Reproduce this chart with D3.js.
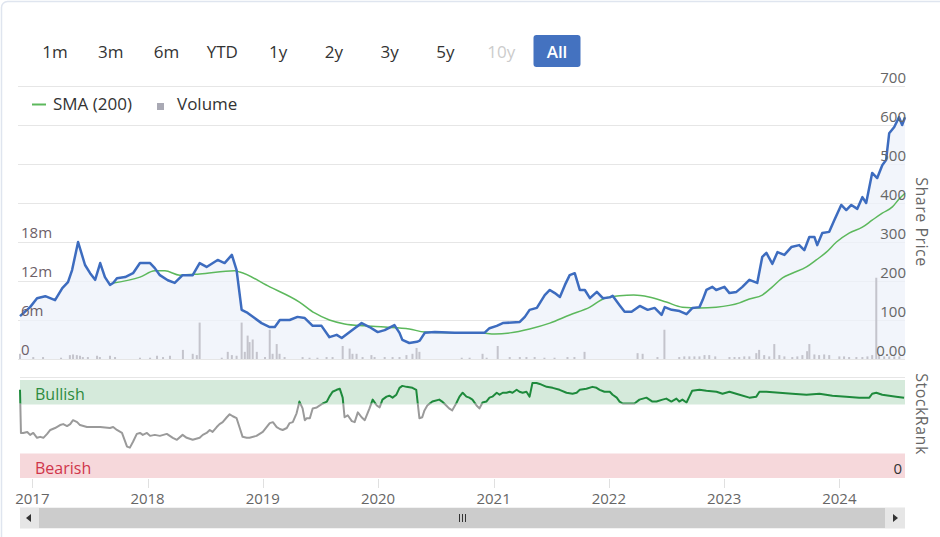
<!DOCTYPE html>
<html><head><meta charset="utf-8">
<script src="https://cdn.jsdelivr.net/npm/d3@7"></script>
<style>
body{margin:0;background:#fff;}
svg{display:block;font-family:"Open Sans",sans-serif;}
</style>
</head><body>
<svg id="c" width="940" height="537"></svg>
<script>
// ---------------- DATA ----------------
const rangeButtons = ["1m","3m","6m","YTD","1y","2y","3y","5y","10y","All"];
const priceTicks = [0,100,200,300,400,500,600,700];
const priceTickLabels = ["0.00","100","200","300","400","500","600","700"];
const volumeTicks = [0,6,12,18];
const volumeTickLabels = ["0","6m","12m","18m"];
const yearTicks = [2017,2018,2019,2020,2021,2022,2023,2024];

const priceDates = ["2016-11-23","2016-12-25","2017-01-16","2017-02-11","2017-03-14","2017-04-06","2017-04-24","2017-05-07","2017-05-26","2017-06-17","2017-07-03","2017-07-19","2017-08-04","2017-08-19","2017-09-04","2017-09-14","2017-09-26","2017-10-22","2017-11-16","2017-12-08","2018-01-09","2018-01-24","2018-02-09","2018-03-06","2018-03-28","2018-04-22","2018-05-24","2018-06-15","2018-07-07","2018-08-11","2018-09-02","2018-09-25","2018-10-10","2018-10-26","2018-11-14","2018-12-06","2018-12-28","2019-01-23","2019-02-08","2019-02-24","2019-03-27","2019-04-21","2019-05-14","2019-06-08","2019-07-06","2019-07-31","2019-08-23","2019-09-08","2019-10-19","2019-11-10","2019-12-05","2019-12-31","2020-01-22","2020-02-22","2020-03-09","2020-03-18","2020-04-09","2020-05-03","2020-05-12","2020-05-28","2020-06-29","2020-08-31","2020-12-03","2020-12-19","2021-01-11","2021-01-30","2021-03-25","2021-04-10","2021-04-25","2021-05-18","2021-06-12","2021-06-28","2021-07-14","2021-07-30","2021-08-15","2021-08-30","2021-09-15","2021-10-01","2021-10-17","2021-11-02","2021-11-24","2021-12-13","2022-01-04","2022-01-13","2022-02-04","2022-02-20","2022-03-14","2022-04-09","2022-05-04","2022-05-26","2022-06-17","2022-06-27","2022-07-19","2022-08-13","2022-09-04","2022-09-23","2022-10-15","2022-10-25","2022-11-06","2022-11-25","2022-12-07","2023-01-02","2023-01-18","2023-02-09","2023-02-28","2023-03-22","2023-04-16","2023-05-02","2023-05-15","2023-06-03","2023-06-19","2023-07-11","2023-08-02","2023-08-27","2023-09-12","2023-09-28","2023-10-14","2023-10-23","2023-11-08","2023-11-30","2023-12-16","2024-01-07","2024-01-23","2024-02-08","2024-02-27","2024-03-14","2024-03-26","2024-04-14","2024-04-30","2024-05-16","2024-05-28","2024-06-07","2024-06-23","2024-07-08","2024-07-18","2024-07-27"];
const priceValues = [110,133,156,161,151,182,197,228,300,241,220,203,246,210,190,195,207,210,220,246,246,233,215,202,195,215,215,246,236,254,246,267,228,126,118,105,92,82,82,100,100,108,105,85,85,56,62,54,79,92,82,69,74,87,67,49,41,44,47,67,69,67,67,79,85,92,95,108,126,131,164,177,169,159,190,215,220,177,177,156,172,156,158,162,138,121,121,136,126,131,113,133,126,123,115,131,133,151,177,185,177,185,169,172,185,203,195,262,272,244,274,267,287,292,279,313,313,292,323,326,356,395,382,395,385,415,400,477,464,497,510,579,595,620,600,620];

const smaDates = ["2017-09-14","2017-12-08","2018-01-24","2018-02-25","2018-04-13","2018-06-15","2018-10-04","2018-10-20","2019-01-23","2019-04-27","2019-06-14","2019-07-31","2019-09-17","2019-11-19","2020-01-22","2020-04-09","2020-05-28","2020-08-15","2020-11-18","2021-01-05","2021-02-22","2021-04-25","2021-06-28","2021-08-30","2021-11-02","2021-12-19","2022-02-04","2022-03-21","2022-05-08","2022-07-02","2022-08-22","2022-10-15","2022-12-07","2023-02-19","2023-03-22","2023-05-02","2023-06-03","2023-07-05","2023-08-05","2023-09-19","2023-10-20","2023-11-21","2023-12-23","2024-02-01","2024-03-14","2024-04-14","2024-05-16","2024-06-17","2024-07-08","2024-07-27"];
const smaValues = [195,210,226,226,215,218,226,223,185,146,118,100,90,85,82,77,69,67,67,64,67,77,92,113,133,156,162,164,159,146,133,131,133,144,154,164,185,208,220,236,254,274,300,323,338,356,374,390,410,425];

// volume in millions
const volumeDates = ["2016-11-23","2017-01-04","2017-02-04","2017-04-02","2017-04-30","2017-05-10","2017-05-22","2017-06-01","2017-06-10","2017-06-26","2017-07-25","2017-08-03","2017-09-04","2017-09-20","2017-12-08","2018-01-09","2018-01-31","2018-02-19","2018-03-13","2018-04-23","2018-05-24","2018-06-06","2018-06-15","2018-08-24","2018-09-12","2018-09-25","2018-10-10","2018-10-26","2018-11-05","2018-11-14","2018-11-20","2018-11-30","2018-12-13","2019-01-08","2019-01-23","2019-02-01","2019-02-14","2019-02-23","2019-03-11","2019-05-07","2019-05-29","2019-06-23","2019-07-22","2019-08-10","2019-09-11","2019-10-03","2019-10-12","2019-10-25","2019-11-13","2019-12-11","2019-12-21","2020-01-22","2020-02-16","2020-03-09","2020-03-31","2020-04-19","2020-05-02","2020-05-11","2020-09-22","2020-10-17","2020-11-27","2020-12-10","2021-01-14","2021-02-21","2021-03-25","2021-04-15","2021-05-11","2021-06-11","2021-07-13","2021-08-23","2021-09-14","2021-10-16","2022-04-02","2022-04-18","2022-06-04","2022-06-26","2022-08-12","2022-08-28","2022-09-13","2022-09-29","2022-10-15","2022-10-31","2022-11-15","2022-12-04","2023-01-18","2023-02-03","2023-02-18","2023-03-06","2023-03-22","2023-04-13","2023-04-22","2023-05-08","2023-05-24","2023-06-09","2023-06-25","2023-07-11","2023-08-05","2023-08-21","2023-09-06","2023-09-21","2023-09-28","2023-10-14","2023-10-29","2023-11-14","2023-11-30","2024-01-01","2024-01-16","2024-02-01","2024-02-24","2024-03-14","2024-03-30","2024-04-14","2024-04-27","2024-05-06","2024-05-22","2024-06-07","2024-06-23","2024-07-09"];
const volumeValues = [0.8,0.3,0.3,0.2,0.6,0.7,0.6,0.5,0.3,0.3,0.5,0.3,0.5,0.3,0.2,0.2,0.5,0.3,0.5,1.4,0.8,0.6,5.6,0.2,1.1,0.6,0.5,5.6,1.1,3.6,2.6,3.0,1.1,0.3,4.5,0.8,2.3,0.8,0.3,0.3,0.2,0.2,0.3,0.3,2.0,1.6,0.8,0.8,0.3,0.6,0.3,0.3,0.3,0.3,0.6,0.8,1.7,1.1,0.2,0.2,0.8,0.2,2.0,0.3,0.3,0.3,0.3,0.2,0.2,0.3,0.3,1.1,0.9,0.8,0.3,4.5,0.3,0.4,0.4,0.4,0.4,0.6,0.6,0.4,0.3,0.3,0.3,0.4,0.4,0.9,1.4,0.6,0.4,2.3,0.6,0.4,0.3,0.4,0.6,1.2,2.3,0.7,0.6,0.7,0.6,0.4,0.4,0.3,0.3,0.3,0.4,0.6,12.5,0.6,0.4,0.4,0.4,0.4];

const rankDates = ["2016-11-23","2016-11-26","2016-12-03","2016-12-16","2016-12-25","2017-01-04","2017-01-16","2017-01-26","2017-02-05","2017-02-17","2017-02-27","2017-03-14","2017-03-30","2017-04-09","2017-04-21","2017-05-01","2017-05-10","2017-05-23","2017-06-01","2017-06-23","2017-08-04","2017-09-04","2017-09-14","2017-09-26","2017-10-12","2017-10-28","2017-11-06","2017-11-16","2017-11-28","2017-12-08","2017-12-17","2017-12-30","2018-01-09","2018-01-24","2018-02-09","2018-03-03","2018-03-22","2018-04-04","2018-04-22","2018-05-05","2018-05-24","2018-06-15","2018-06-25","2018-07-07","2018-07-17","2018-07-26","2018-08-08","2018-08-17","2018-08-27","2018-09-09","2018-09-18","2018-09-28","2018-10-10","2018-10-20","2018-10-29","2018-11-11","2018-11-20","2018-12-12","2019-01-01","2019-01-13","2019-01-23","2019-02-02","2019-02-14","2019-02-24","2019-03-05","2019-03-18","2019-03-27","2019-04-06","2019-04-18","2019-04-27","2019-05-07","2019-05-14","2019-05-20","2019-05-30","2019-06-08","2019-06-21","2019-07-10","2019-07-23","2019-07-31","2019-08-10","2019-08-23","2019-09-02","2019-09-11","2019-09-17","2019-09-27","2019-10-10","2019-10-19","2019-10-29","2019-11-10","2019-11-20","2019-12-05","2019-12-15","2019-12-28","2020-01-06","2020-01-15","2020-01-28","2020-02-06","2020-02-16","2020-02-28","2020-03-09","2020-03-18","2020-03-31","2020-04-19","2020-05-01","2020-05-11","2020-05-20","2020-05-27","2020-06-05","2020-06-21","2020-07-13","2020-07-22","2020-08-04","2020-08-13","2020-08-23","2020-09-06","2020-09-15","2020-09-25","2020-10-07","2020-10-16","2020-10-26","2020-11-08","2020-11-17","2020-11-27","2020-12-09","2020-12-19","2020-12-28","2021-01-11","2021-01-20","2021-01-30","2021-02-11","2021-02-21","2021-03-02","2021-03-15","2021-03-24","2021-04-03","2021-04-15","2021-04-25","2021-05-04","2021-05-17","2021-05-27","2021-06-18","2021-07-07","2021-07-29","2021-08-20","2021-09-08","2021-09-21","2021-10-01","2021-10-22","2021-11-10","2021-11-23","2021-12-03","2021-12-18","2022-01-04","2022-01-13","2022-01-26","2022-02-04","2022-02-14","2022-03-23","2022-04-08","2022-04-30","2022-05-19","2022-06-01","2022-06-20","2022-07-02","2022-07-18","2022-08-03","2022-08-12","2022-08-22","2022-09-04","2022-09-13","2022-09-22","2022-10-15","2022-11-06","2022-12-08","2022-12-27","2023-01-18","2023-02-19","2023-03-22","2023-04-13","2023-04-23","2023-05-15","2023-06-25","2023-08-05","2023-09-19","2023-10-30","2023-12-10","2024-01-23","2024-03-04","2024-03-26","2024-04-05","2024-04-14","2024-04-27","2024-05-16","2024-06-07","2024-06-29","2024-07-24"];
const rankValues = [90,46,46,47,44,46,41,42,41,45,49,51,54,55,53,55,59,57,54,52,52,51,52,49,46,32,31,37,45,46,44,46,43,44,43,45,41,39,44,41,39,41,44,46,49,47,52,55,57,62,65,63,61,51,42,41,41,43,47,52,56,57,52,50,49,51,56,57,66,78,71,59,61,61,71,72,76,78,83,88,90,91,82,62,64,58,57,67,62,59,71,80,74,72,80,83,84,82,85,92,94,93,92,90,61,62,69,74,78,80,78,74,71,69,77,83,87,83,82,80,74,71,77,78,82,83,87,85,87,87,88,87,90,88,87,88,83,97,97,96,93,92,90,87,86,87,90,91,93,92,90,88,88,85,82,78,76,76,80,82,78,78,80,81,78,81,78,80,77,83,89,90,89,88,86,88,85,82,83,88,88,87,86,85,86,84,83,82,82,82,86,87,85,84,83,82];

// ---------------- DRAW ----------------
const svg = d3.select("#c");
const parse = d3.timeParse("%Y-%m-%d");
const X0 = 20, X1 = 905;
const x = d3.scaleTime().domain([parse(priceDates[0]), parse(priceDates[priceDates.length-1])]).range([X0, X1]);
const yP = d3.scaleLinear().domain([0,700]).range([359,86]);
const yV = d3.scaleLinear().domain([0,42]).range([359,86]);
const yR = d3.scaleLinear().domain([0,100]).range([478,380]);

// container border
svg.append("rect").attr("x",1.5).attr("y",1.5).attr("width",990).attr("height",600).attr("rx",6)
  .attr("fill","none").attr("stroke","#dfe5ef").attr("stroke-width",1.5);

// range selector
const bx = d3.scalePoint().domain(rangeButtons).range([55,557]);
const btn = svg.append("g").selectAll("g").data(rangeButtons).join("g")
  .attr("transform", d => `translate(${bx(d)},0)`);
btn.filter(d => d === "All").append("rect").attr("x",-23.5).attr("y",35).attr("width",47).attr("height",32)
  .attr("rx",3).attr("fill","#4472c0");
btn.append("text").attr("y",58).attr("text-anchor","middle").attr("font-size",17)
  .attr("font-weight", d => d === "All" ? 600 : 400)
  .attr("fill", d => d === "All" ? "#fff" : (d === "10y" ? "#cccccc" : "#333"))
  .text(d => d);

// price gridlines
svg.append("g").selectAll("line").data(priceTicks).join("line")
  .attr("x1",18).attr("x2",X1).attr("y1",d=>Math.round(yP(d))+0.5).attr("y2",d=>Math.round(yP(d))+0.5)
  .attr("stroke", "#e6e6e6").attr("stroke-width",1);

// price area
const pData = priceDates.map((d,i)=>({d:parse(d), v:priceValues[i]}));
svg.append("path").datum(pData)
  .attr("d", d3.area().x(d=>x(d.d)).y0(yP(0)).y1(d=>yP(d.v)))
  .attr("fill","#eef1f9").attr("fill-opacity",0.75);

// volume bars
const vData = volumeDates.map((d,i)=>({d:parse(d), v:volumeValues[i]}));
svg.append("g").selectAll("rect").data(vData).join("rect")
  .attr("x", d=>x(d.d)-1).attr("width",2)
  .attr("y", d=>yV(d.v)).attr("height", d=>yV(0)-yV(d.v))
  .attr("fill","#c4c4cc");

// SMA
const sData = smaDates.map((d,i)=>({d:parse(d), v:smaValues[i]}));
svg.append("path").datum(sData)
  .attr("d", d3.line().x(d=>x(d.d)).y(d=>yP(d.v)).curve(d3.curveMonotoneX))
  .attr("fill","none").attr("stroke","#5cb85c").attr("stroke-width",1.5);

// price line
svg.append("path").datum(pData)
  .attr("d", d3.line().x(d=>x(d.d)).y(d=>yP(d.v)))
  .attr("fill","none").attr("stroke","#3d6cbf").attr("stroke-width",2.5).attr("stroke-linejoin","round");

// price axis labels
svg.append("g").selectAll("text").data(priceTicks).join("text")
  .attr("x",906).attr("y",d=>yP(d)-3).attr("text-anchor","end").attr("font-size",15)
  .attr("fill","#666").text((d,i)=>priceTickLabels[i]);

// volume axis labels
svg.append("g").selectAll("text").data(volumeTicks).join("text")
  .attr("x",21).attr("y",d=>yV(d)-4).attr("font-size",15)
  .attr("fill","#6d6068").text((d,i)=>volumeTickLabels[i]);

// axis titles
svg.append("text").attr("transform","translate(916,222) rotate(90)").attr("text-anchor","middle")
  .attr("font-size",16).attr("fill","#666").attr("letter-spacing",0.5).text("Share Price");
svg.append("text").attr("transform","translate(916,414) rotate(90)").attr("text-anchor","middle")
  .attr("font-size",16).attr("fill","#666").attr("letter-spacing",0.5).text("StockRank");

// legend
svg.append("line").attr("x1",32).attr("x2",46).attr("y1",104.5).attr("y2",104.5).attr("stroke","#5cb85c").attr("stroke-width",2);
svg.append("text").attr("x",53).attr("y",110).attr("font-size",17).attr("fill","#333").text("SMA (200)");
svg.append("rect").attr("x",157).attr("y",103).attr("width",7).attr("height",7).attr("fill","#a9a9b4");
svg.append("text").attr("x",177).attr("y",110).attr("font-size",17).attr("fill","#333").text("Volume");

// ---- StockRank panel ----
svg.append("line").attr("x1",X0).attr("x2",X1).attr("y1",377.5).attr("y2",377.5).attr("stroke","#e6e6e6");
svg.append("rect").attr("x",X0).attr("width",X1-X0).attr("y",yR(100)).attr("height",yR(75)-yR(100)).attr("fill","#d5eadb");
svg.append("rect").attr("x",X0).attr("width",X1-X0).attr("y",yR(25)).attr("height",yR(0)-yR(25)).attr("fill","#f6d8db");
svg.append("text").attr("x",35).attr("y",400).attr("font-size",16).attr("fill","#2e8b3e").text("Bullish");
svg.append("text").attr("x",35).attr("y",474).attr("font-size",16).attr("fill","#d0354a").text("Bearish");
svg.append("text").attr("x",902).attr("y",474).attr("text-anchor","end").attr("font-size",15).attr("fill","#333").text("0");

const rData = rankDates.map((d,i)=>({d:parse(d), v:rankValues[i]}));
const thr = yR(76);
const defs = svg.append("defs");
defs.append("clipPath").attr("id","above").append("rect").attr("x",0).attr("y",0).attr("width",940).attr("height",thr);
defs.append("clipPath").attr("id","below").append("rect").attr("x",0).attr("y",thr).attr("width",940).attr("height",537-thr);
const rLine = d3.line().x(d=>x(d.d)).y(d=>yR(d.v));
svg.append("path").datum(rData).attr("d",rLine).attr("clip-path","url(#below)")
  .attr("fill","none").attr("stroke","#9a9a9a").attr("stroke-width",2).attr("stroke-linejoin","round");
svg.append("path").datum(rData).attr("d",rLine).attr("clip-path","url(#above)")
  .attr("fill","none").attr("stroke","#1e8a3c").attr("stroke-width",2).attr("stroke-linejoin","round");

// x axis
const years = yearTicks.map(y => new Date(y,0,1));
svg.append("g").selectAll("line").data(years).join("line")
  .attr("x1",d=>Math.round(x(d))+0.5).attr("x2",d=>Math.round(x(d))+0.5).attr("y1",479).attr("y2",488)
  .attr("stroke","#e0e0e0");
svg.append("g").selectAll("text").data(years).join("text")
  .attr("x",d=>x(d)).attr("y",504).attr("text-anchor","middle").attr("font-size",15)
  .attr("fill","#666").text((d,i)=>yearTicks[i]);

// scrollbar
svg.append("rect").attr("x",X0).attr("y",507).attr("width",X1-X0).attr("height",22).attr("fill","#f2f2f2");
svg.append("rect").attr("x",39).attr("y",508).attr("width",846).attr("height",20).attr("fill","#cccccc");
svg.append("rect").attr("x",X0).attr("y",508).attr("width",19).attr("height",20).attr("fill","#e6e6e6");
svg.append("rect").attr("x",885).attr("y",508).attr("width",20).attr("height",20).attr("fill","#e6e6e6");
svg.append("path").attr("d","M31,514 L26,518 L31,522 Z").attr("fill","#333");
svg.append("path").attr("d","M893,514 L898,518 L893,522 Z").attr("fill","#333");
svg.append("g").selectAll("line").data([-3,0,3]).join("line")
  .attr("x1",d=>462+d+0.5).attr("x2",d=>462+d+0.5).attr("y1",514).attr("y2",522).attr("stroke","#333");
</script>
</body></html>
